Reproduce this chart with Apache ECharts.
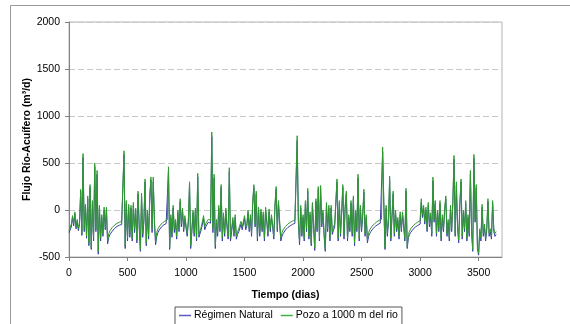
<!DOCTYPE html>
<html>
<head>
<meta charset="utf-8">
<script src="https://cdn.jsdelivr.net/npm/echarts@6/dist/echarts.min.js"></script>
<style>
  html, body { margin: 0; padding: 0; background: #ffffff; }
  #chart { width: 570px; height: 324px; }
</style>
</head>
<body>
<div id="chart"></div>
<script>
// Daily river-aquifer exchange flow, sampled every 10 days (day 0 .. 3650)
const stepDays = 10;

// Pozo a 1000 m del rio (m3/d)
const pozoValues = [
  -220,-200,-150,-60,-150,-20,-180,-100,-200,-130,
  220,-250,600,-200,60,-280,150,-350,270,-400,
  100,-300,500,-200,420,-440,50,-300,-50,-250,
  30,-180,30,-330,-250,-220,-200,-185,-170,-160,
  -150,-142,-135,-130,-126,-122,-118,630,-380,100,
  -300,60,-250,50,-300,80,-200,20,-320,200,
  -150,-420,180,-250,-100,330,-350,0,-280,150,
  350,-200,350,-100,-340,-240,-200,-180,-160,-145,
  -135,-125,-118,-110,-105,460,-400,-50,-250,50,
  -200,-100,-280,0,-200,120,-150,20,-200,-60,
  -160,-250,-100,300,-380,-200,0,-250,20,-300,
  390,-260,-220,-180,-160,-60,-180,-140,-130,-100,
  -120,-110,830,-200,380,-380,-100,-250,50,-200,
  270,-300,-30,-250,20,-150,-280,450,-300,-200,
  -80,-250,-50,-280,-230,-200,-190,-120,-180,-160,
  -60,-180,-140,0,-200,-50,-250,100,270,-150,
  200,-300,30,-250,10,-200,-20,-300,30,-100,
  -250,10,-200,-50,-150,-280,60,250,-200,100,
  -120,-300,-240,-210,-190,-175,-160,-150,-140,-132,
  -125,-118,-112,-108,-100,790,-100,-340,50,-250,
  -50,-300,100,-200,230,-280,-20,-350,80,-150,
  -400,120,-200,250,-300,260,-150,0,-250,-420,
  80,-200,50,-300,50,-230,-180,-150,-130,330,
  -300,100,-250,0,270,-280,50,200,-300,-50,
  -200,100,-250,150,-350,0,-200,380,-300,50,
  -200,-30,220,-250,-50,-320,-240,-210,-190,-172,
  -158,-146,-135,-126,-118,-110,-104,-100,670,100,
  -400,50,-250,-100,360,-300,-50,200,-250,0,
  -200,-80,-280,-20,-200,-20,-150,-300,230,-390,
  -260,-225,-200,-182,-168,-155,-145,-136,-128,-120,
  -115,120,-50,50,-120,30,-200,80,-150,-30,
  -250,350,-100,100,-250,0,-200,100,-300,-50,
  -200,20,150,-250,-100,-300,50,-200,100,580,
  -250,300,-150,-320,80,330,-280,0,-200,100,
  -300,-50,-250,420,-200,-420,590,-100,270,-380,
  -460,-200,-300,60,-250,-150,-300,-180,120,-250,
  -200,-280,100,-200,-250,-230
];

// Régimen Natural (m3/d)
const naturalValues = [
  -240,-230,-180,-80,-170,-40,-200,-120,-220,-150,
  200,-270,560,-230,40,-300,120,-380,240,-420,
  70,-330,460,-230,380,-470,20,-330,-80,-280,
  0,-210,0,-360,-290,-260,-240,-225,-210,-195,
  -185,-175,-168,-162,-158,-154,-150,590,-410,70,
  -330,30,-290,20,-330,50,-240,-10,-350,170,
  -190,-440,150,-290,-130,300,-380,-30,-310,120,
  320,-240,300,-140,-370,-280,-240,-215,-195,-180,
  -168,-158,-150,-145,-140,420,-420,-80,-290,20,
  -240,-130,-310,-30,-230,90,-180,-10,-230,-90,
  -190,-280,-130,270,-410,-230,-30,-280,-10,-330,
  350,-290,-250,-210,-190,-90,-210,-175,-165,-130,
  -150,-140,780,-240,340,-410,-130,-280,20,-230,
  240,-330,-60,-280,-10,-180,-310,410,-330,-230,
  -110,-280,-80,-310,-260,-235,-220,-150,-210,-190,
  -90,-210,-170,-30,-230,-80,-280,70,240,-180,
  170,-330,0,-280,-20,-230,-50,-330,0,-130,
  -280,-20,-230,-80,-180,-310,30,220,-230,70,
  -150,-330,-280,-250,-230,-212,-198,-186,-176,-168,
  -160,-153,-147,-142,-135,740,-130,-370,20,-280,
  -80,-330,70,-230,200,-310,-50,-380,50,-180,
  -430,90,-230,220,-330,230,-180,-30,-280,-440,
  50,-230,20,-330,20,-260,-215,-185,-165,300,
  -330,70,-280,-30,240,-310,20,170,-330,-80,
  -230,70,-280,120,-380,-30,-230,340,-330,20,
  -230,-60,190,-280,-80,-350,-280,-250,-228,-210,
  -195,-182,-171,-162,-154,-146,-140,-135,620,60,
  -420,20,-280,-130,320,-330,-80,170,-280,-30,
  -230,-110,-310,-50,-230,-50,-180,-330,200,-410,
  -295,-262,-238,-220,-205,-192,-181,-172,-164,-156,
  -150,80,-80,20,-150,0,-230,50,-180,-60,
  -280,310,-130,70,-280,-30,-230,70,-330,-80,
  -230,-10,120,-280,-130,-330,20,-230,70,540,
  -280,260,-180,-350,50,300,-310,-30,-230,70,
  -330,-80,-280,380,-230,-440,550,-130,240,-410,
  -480,-230,-330,30,-280,-180,-330,-210,90,-280,
  -230,-310,70,-230,-280,-260
];

const seriesNames = ['Régimen Natural', 'Pozo a 1000 m del rio'];
const xTicks = { min: 0, max: 3700, interval: 500 };
const yTicks = { min: -500, max: 2000, interval: 500 };

const toPairs = vals => vals.map((v, i) => [i * stepDays, v]);
const plain = v => String(v);

const font = 'Liberation Sans, Arial, sans-serif';
const chart = echarts.init(document.getElementById('chart'), null, { renderer: 'canvas' });

chart.setOption({
  animation: false,
  backgroundColor: '#ffffff',
  graphic: [{
    type: 'rect',
    shape: { x: 10.5, y: 5.5, width: 700, height: 400 },
    style: { fill: 'none', stroke: '#9a9a9a', lineWidth: 1 },
    silent: true
  }],
  grid: {
    left: 69, right: 68, top: 22, bottom: 67,
    show: true, borderColor: '#b4b4b4', borderWidth: 1
  },
  legend: {
    data: seriesNames,
    left: 175, top: 307,
    padding: [3, 4, 6, 4],
    itemGap: 8,
    itemWidth: 12, itemHeight: 1.5,
    icon: 'rect',
    borderColor: '#555555', borderWidth: 1,
    textStyle: { fontFamily: font, fontSize: 10.5, color: '#000000', padding: [0, 0, 0, -2] }
  },
  xAxis: {
    type: 'value',
    min: xTicks.min, max: xTicks.max, interval: xTicks.interval,
    name: 'Tiempo (dias)',
    nameLocation: 'middle', nameGap: 33, nameMoveOverlap: false,
    nameTextStyle: { fontFamily: font, fontSize: 10.5, fontWeight: 'bold', color: '#000000' },
    axisLine: { onZero: false, lineStyle: { color: '#808080', width: 1 } },
    axisTick: { show: true, length: 4, lineStyle: { color: '#808080' } },
    axisLabel: { fontFamily: font, fontSize: 10.5, color: '#000000', margin: 11, showMaxLabel: false, formatter: plain },
    splitLine: { show: false }
  },
  yAxis: {
    type: 'value',
    min: yTicks.min, max: yTicks.max, interval: yTicks.interval,
    name: 'Flujo Río-Acuífero (m³/d)',
    nameLocation: 'middle', nameGap: 36, nameMoveOverlap: false,
    nameTextStyle: { fontFamily: font, fontSize: 10.5, fontWeight: 'bold', color: '#000000' },
    axisLine: { show: true, onZero: false, lineStyle: { color: '#808080', width: 1 } },
    axisTick: { show: true, length: 4, lineStyle: { color: '#808080' } },
    axisLabel: { fontFamily: font, fontSize: 10.5, color: '#000000', margin: 9, formatter: plain },
    splitLine: { show: true, lineStyle: { color: '#c8c8c8', type: [6, 3], width: 1 } }
  },
  series: [
    {
      name: seriesNames[0], type: 'line', data: toPairs(naturalValues),
      showSymbol: false, symbol: 'none',
      lineStyle: { color: '#3c3ca8', width: 1 }, itemStyle: { color: '#5a5ac0' }
    },
    {
      name: seriesNames[1], type: 'line', data: toPairs(pozoValues),
      showSymbol: false, symbol: 'none',
      lineStyle: { color: '#2f9a2f', width: 1 }, itemStyle: { color: '#44b044' }
    }
  ]
});
</script>
</body>
</html>
